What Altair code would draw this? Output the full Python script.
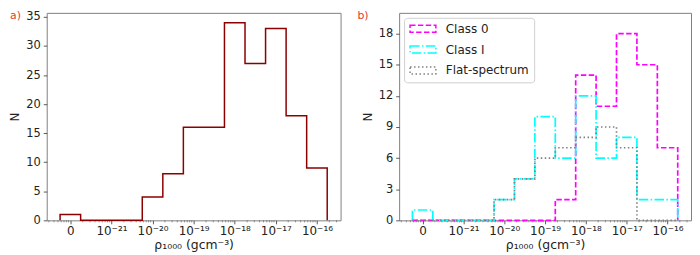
import math
import altair as alt
import pandas as pd

# ---------------- data ----------------
bin_centers = [-22.0, -21.5, -21.0, -20.5, -20.0, -19.5, -19.0, -18.5, -18.0, -17.5, -17.0, -16.5, -16.0]
bin_width = 0.5
all_counts = [1, 0, 0, 0, 4, 8, 16, 16, 34, 27, 33, 18, 9]
class0_counts = [0, 0, 0, 0, 0, 0, 0, 2, 14, 11, 18, 15, 7]
class1_counts = [1, 0, 0, 0, 2, 4, 10, 6, 12, 6, 8, 2, 2]
flat_counts = [0, 0, 0, 0, 2, 4, 6, 7, 8, 9, 7, 0, 0]
series_names = ["Class 0", "Class I", "Flat-spectrum"]
series_colors = ["#ff00ff", "#00ffff", "#808080"]
series_dashes = [[5.5, 2.4], [9.6, 2.4, 1.5, 2.4], [1.5, 2.5]]

tick_values = [-22, -21, -20, -19, -18, -17, -16]
tick_labels = ["0", "10⁻²¹", "10⁻²⁰", "10⁻¹⁹", "10⁻¹⁸", "10⁻¹⁷", "10⁻¹⁶"]
left_y_ticks = [0, 5, 10, 15, 20, 25, 30, 35]
right_y_ticks = [0, 3, 6, 9, 12, 15, 18]
x_domain = [-22.575, -15.425]
left_y_domain = [0, 35.7]
right_y_domain = [0, 20]
x_title = "ρ₁₀₀₀ (gcm⁻³)"

W1 = 296
W2 = 294
H = 209
FONT = "DejaVu Sans"


def step_rows(counts, name):
    edges = [c - bin_width / 2 for c in bin_centers] + [bin_centers[-1] + bin_width / 2]
    rows = [(edges[0], 0)]
    for i, c in enumerate(counts):
        rows.append((edges[i], c))
        rows.append((edges[i + 1], c))
    rows.append((edges[-1], 0))
    return pd.DataFrame({"x": [r[0] for r in rows], "y": [r[1] for r in rows],
                         "o": list(range(len(rows))), "series": name})


df_all = step_rows(all_counts, "All")
df_classes = pd.concat([step_rows(class0_counts, series_names[0]),
                        step_rows(class1_counts, series_names[1]),
                        step_rows(flat_counts, series_names[2])], ignore_index=True)

minor = []
for d in range(-23, -15):
    for k in range(2, 10):
        p = d + math.log10(k)
        if x_domain[0] < p < x_domain[1]:
            minor.append(p)
df_minor = pd.DataFrame({"pos": minor})

label_expr = "".join(f"round(datum.value) == {v} ? '{l}' : " for v, l in zip(tick_values, tick_labels)) + "''"

xscale = alt.Scale(domain=x_domain, nice=False, zero=False)


def x_axis():
    return alt.Axis(values=tick_values, labelExpr=label_expr, title=x_title, grid=False,
                    domain=False, tickSize=3.5, labelPadding=2, labelFontSize=12,
                    titleFontSize=12.5, titlePadding=2, labelFlush=False)


def y_axis(vals):
    return alt.Axis(values=vals, title="N", grid=False, domain=False, tickSize=3.5,
                    labelPadding=3, labelFontSize=11.5, titleFontSize=12, titlePadding=4,
                    titleAngle=270)


def minor_layer(h):
    return alt.Chart(df_minor).mark_rule(color="#555555", strokeWidth=0.6).encode(
        x=alt.X("pos:Q", scale=xscale), y=alt.value(h), y2=alt.value(h + 2))


def panel_label(t, dx):
    return alt.Chart(pd.DataFrame({"t": [t]})).mark_text(
        align="left", baseline="top", color="#e8392e", fontSize=11, font=FONT
    ).encode(x=alt.value(dx), y=alt.value(-3), text="t:N")


left_line = alt.Chart(df_all).mark_line(color="#8b0000", strokeWidth=1.5).encode(
    x=alt.X("x:Q", scale=xscale, axis=x_axis()),
    y=alt.Y("y:Q", scale=alt.Scale(domain=left_y_domain, nice=False), axis=y_axis(left_y_ticks)),
    order="o:Q",
)
left = alt.layer(minor_layer(H), left_line, panel_label("a)", -37)).properties(width=W1, height=H)

legend = alt.Legend(
    title=None, orient="top-left", offset=5, symbolType="M-2.6,-0.7H2.6V0.7H-2.6Z",
    symbolSize=100, symbolStrokeWidth=1.5, labelFontSize=12, labelOffset=17,
    symbolOffset=8, padding=5, fillColor="white", strokeColor="#d0d0d0", cornerRadius=3,
    rowPadding=7, labelColor="#222222", labelFont=FONT,
)
right_line = alt.Chart(df_classes).mark_line(strokeWidth=1.7).encode(
    x=alt.X("x:Q", scale=xscale, axis=x_axis()),
    y=alt.Y("y:Q", scale=alt.Scale(domain=right_y_domain, nice=False), axis=y_axis(right_y_ticks)),
    color=alt.Color("series:N", scale=alt.Scale(domain=series_names, range=series_colors), legend=legend),
    strokeDash=alt.StrokeDash("series:N", scale=alt.Scale(domain=series_names, range=series_dashes), legend=legend),
    order="o:Q",
)
right = alt.layer(minor_layer(H), right_line, panel_label("b)", -42)).properties(width=W2, height=H)

chart = alt.hconcat(left, right, spacing=15).resolve_legend(
    color="independent", strokeDash="independent"
).properties(padding=0).configure_view(
    stroke="#808080", strokeWidth=1
).configure_axis(
    labelFont=FONT, titleFont=FONT, labelColor="#222222", titleColor="#222222",
    tickColor="#333333", titleFontWeight="normal", tickWidth=0.8
)

chart.save("out.html", embed_options={"renderer": "svg", "actions": False})
